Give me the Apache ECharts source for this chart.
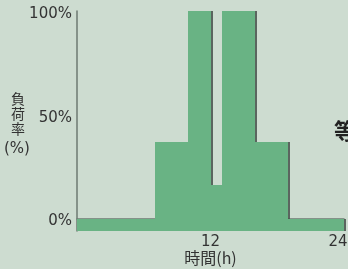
<!DOCTYPE html>
<html>
<head>
<meta charset="utf-8">
<script src="https://cdn.jsdelivr.net/npm/echarts@6/dist/echarts.min.js"></script>
<style>
html,body{margin:0;padding:0;background:#cddcd0;}
#c{width:348px;height:269px;}
</style>
</head>
<body>
<div id="c"></div>
<script>
// Data (hours, load rate %)
const segStart = [0, 7, 10, 12, 13, 16, 19];
const segEnd   = [7, 10, 12, 13, 16, 19, 24];
const loadRate = [0, 37, 100, 16, 100, 37, 0];
const yTicks = [0, 50, 100];
const xTicks = [12, 24];
const yAxisTitle = '負\n荷\n率';
const yAxisUnit = '(%)';
const xAxisTitle = '時間(h)';
const sideText = '等';

const Y_MIN = -6;
const data = segStart.map((s, i) => [s, segEnd[i], loadRate[i]]);

const chart = echarts.init(document.getElementById('c'), null, {renderer: 'canvas'});
chart.setOption({
  backgroundColor: '#cddcd0',
  animation: false,
  grid: {left: 77, right: 4, top: 11, bottom: 38, outerBoundsMode: 'none'},
  xAxis: {
    type: 'value', min: 0, max: 24,
    axisLine: {show: true, lineStyle: {color: '#6d7a72', width: 1.5}},
    axisTick: {show: false},
    splitLine: {show: false},
    axisLabel: {
      customValues: xTicks, margin: 4,
      color: '#333', fontFamily: 'DejaVu Sans', fontSize: 15,
      formatter: v => v === 24 ? '{r|24}' : String(v),
      rich: {r: {color: '#333', fontFamily: 'DejaVu Sans', fontSize: 15, padding: [0, 12, 0, 0]}}
    },
    name: xAxisTitle, nameLocation: 'middle', nameGap: 19, nameMoveOverlap: false,
    nameTextStyle: {color: '#333', fontFamily: 'Noto Sans CJK JP', fontSize: 16}
  },
  yAxis: {
    type: 'value', min: Y_MIN, max: 100,
    axisLine: {show: true, lineStyle: {color: '#6d7a72', width: 1.5}},
    axisTick: {show: false},
    splitLine: {show: false},
    axisLabel: {
      customValues: yTicks, margin: 5,
      formatter: v => '{a|' + v + '%}',
      rich: {a: {color: '#333', fontFamily: 'DejaVu Sans', fontSize: 15, padding: [6, 0, 0, 0]}}
    }
  },
  graphic: [
    {type: 'text', left: 11, top: 91,
     style: {text: yAxisTitle, fill: '#333', font: '14px "Noto Sans CJK JP"', lineHeight: 15}},
    {type: 'text', left: 4, top: 142,
     style: {text: yAxisUnit, fill: '#333', font: '15px "DejaVu Sans"'}},
    {type: 'text', left: 334, top: 120,
     style: {text: sideText, fill: '#222', font: 'bold 22px "Noto Sans CJK JP"'}}
  ],
  series: [{
    type: 'custom',
    data: data,
    clip: false,
    renderItem: function (params, api) {
      const p0 = api.coord([api.value(0), Y_MIN]);
      const p1 = api.coord([api.value(1), api.value(2)]);
      const x0 = Math.round(p0[0]), x1 = Math.round(p1[0]);
      const y0 = Math.round(p0[1]), y1 = Math.round(p1[1]);
      return {
        type: 'rect',
        shape: {x: x0, y: y1, width: x1 - x0, height: y0 - y1},
        style: {fill: '#69b384', shadowColor: 'rgba(70,80,75,0.85)', shadowOffsetX: 2, shadowOffsetY: 0, shadowBlur: 0}
      };
    }
  }]
});
</script>
</body>
</html>
